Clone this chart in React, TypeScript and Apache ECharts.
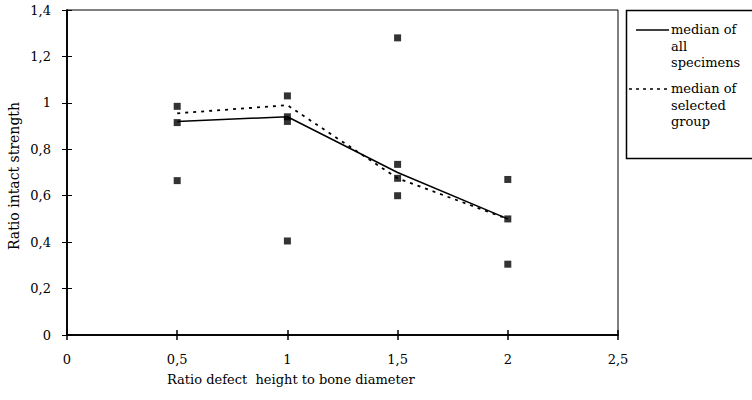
import React, { useEffect, useRef } from "react";
import * as echarts from "echarts";

const xTicks = [0, 0.5, 1, 1.5, 2, 2.5];
const yTicks = [0, 0.2, 0.4, 0.6, 0.8, 1, 1.2, 1.4];

const groupX = [0.5, 1, 1.5, 2];
const medianAll = [0.92, 0.94, 0.7, 0.5];
const medianSelected = [0.955, 0.99, 0.675, 0.5];

const scatterX = [0.5, 0.5, 0.5, 1, 1, 1, 1, 1.5, 1.5, 1.5, 1.5, 2, 2, 2];
const scatterY = [0.985, 0.915, 0.665, 1.03, 0.94, 0.92, 0.405, 1.28, 0.735, 0.675, 0.6, 0.67, 0.5, 0.305];

const xTitle = "Ratio defect  height to bone diameter";
const yTitle = "Ratio intact strength";
const legendAll = ["median of", "all", "specimens"];
const legendSel = ["median of", "selected", "group"];

const FONT = "DejaVu Serif";
const fmt = (v: number) => String(v).replace(".", ",");

export default function App() {
  const ref = useRef<HTMLDivElement>(null);
  useEffect(() => {
    if (!ref.current) return;
    const chart = echarts.init(ref.current, null, { renderer: "svg" });
    const axisCommon = {
      type: "value" as const,
      splitLine: { show: false },
      axisLine: { show: true, onZero: false, lineStyle: { color: "#000", width: 1.5 } },
    };
    const legendText = (lines: string[], y0: number) =>
      lines.map((t, i) => ({
        type: "text",
        left: 671,
        top: y0 + i * 16.5,
        style: { text: t, fontFamily: FONT, fontSize: 13, fill: "#000" },
      }));
    chart.setOption({
      animation: false,
      backgroundColor: "#fff",
      textStyle: { fontFamily: FONT },
      grid: { left: 67, top: 10, right: 134, bottom: 65, show: true, borderColor: "#000", borderWidth: 1 },
      xAxis: [
        {
          ...axisCommon,
          min: 0,
          max: 2.5,
          interval: 0.5,
          axisTick: { show: true, inside: false, length: 5, lineStyle: { color: "#000", width: 1.5 } },
          axisLabel: { formatter: fmt, margin: 18, fontFamily: FONT, fontSize: 13, color: "#000" },
        },
        {
          ...axisCommon,
          position: "bottom",
          min: 0,
          max: 2.5,
          interval: 0.5,
          axisTick: { show: true, inside: true, length: 5, lineStyle: { color: "#000", width: 1.5 } },
          axisLabel: { show: false },
        },
      ],
      yAxis: [
        {
          ...axisCommon,
          min: 0,
          max: 1.4,
          interval: 0.2,
          axisTick: { show: true, inside: false, length: 5, lineStyle: { color: "#000", width: 1 } },
          axisLabel: { formatter: fmt, margin: 16, fontFamily: FONT, fontSize: 13, color: "#000" },
        },
        {
          ...axisCommon,
          position: "left",
          min: 0,
          max: 1.4,
          interval: 0.2,
          axisTick: { show: true, inside: true, length: 5, lineStyle: { color: "#000", width: 1 } },
          axisLabel: { show: false },
        },
      ],
      series: [
        {
          type: "scatter",
          symbol: "rect",
          symbolSize: 7,
          itemStyle: { color: "#000" },
          data: scatterX.map((x, i) => [x, scatterY[i]]),
          z: 3,
        },
        {
          type: "line",
          showSymbol: false,
          lineStyle: { color: "#000", width: 1.5 },
          data: groupX.map((x, i) => [x, medianAll[i]]),
        },
        {
          type: "line",
          showSymbol: false,
          lineStyle: { color: "#000", width: 1.8, type: [3, 5] },
          data: groupX.map((x, i) => [x, medianSelected[i]]),
        },
      ],
      graphic: [
        {
          type: "text",
          left: 167,
          top: 373,
          style: { text: xTitle, fontFamily: FONT, fontSize: 13, fill: "#000" },
        },
        {
          type: "text",
          x: 7,
          y: 250,
          rotation: Math.PI / 2,
          style: { text: yTitle, fontFamily: FONT, fontSize: 14, fill: "#000", verticalAlign: "top" },
        },
        {
          type: "rect",
          shape: { x: 626.5, y: 10.5, width: 140, height: 148 },
          style: { fill: "none", stroke: "#000", lineWidth: 1.5 },
        },
        {
          type: "line",
          shape: { x1: 636, y1: 30, x2: 669, y2: 30 },
          style: { stroke: "#000", lineWidth: 1.5 },
        },
        {
          type: "line",
          shape: { x1: 629, y1: 89, x2: 669, y2: 89 },
          style: { stroke: "#000", lineWidth: 1.5, lineDash: [3, 4] },
        },
        ...legendText(legendAll, 23),
        ...legendText(legendSel, 82),
      ],
    });
    return () => chart.dispose();
  }, []);
  return <div ref={ref} style={{ width: 752, height: 400, position: "absolute", left: 0, top: 0 }} />;
}
